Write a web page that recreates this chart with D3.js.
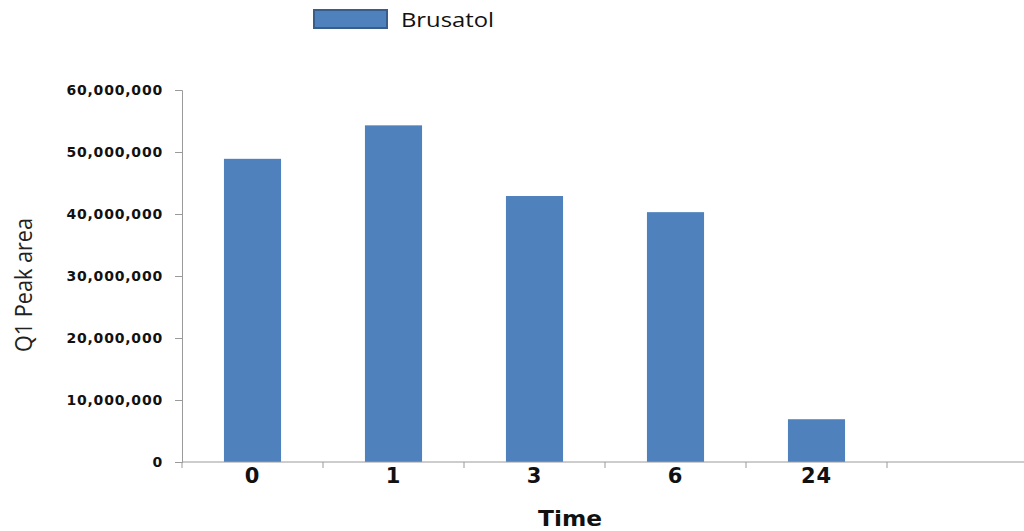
<!DOCTYPE html>
<html>
<head>
<meta charset="utf-8">
<script src="https://cdn.jsdelivr.net/npm/d3@7"></script>
<style>
  body { margin: 0; background: #fff; }
  .tick-y text { font-family: "DejaVu Sans", sans-serif; font-weight: bold; font-size: 14px; letter-spacing: 0.8px; fill: #111; }
  .tick-x text { font-family: "DejaVu Sans", sans-serif; font-weight: bold; font-size: 21px; letter-spacing: 1px; fill: #111; }
</style>
</head>
<body>
<div id="chart"></div>
<script>
// categories (time points), last one is an empty slot like in the original
const times = ["0", "1", "3", "6", "24", ""];
const peakArea = [48900000, 54300000, 42900000, 40300000, 6900000, null];
const yTicks = [0, 10000000, 20000000, 30000000, 40000000, 50000000, 60000000];
const seriesName = "Brusatol";

const width = 1024, height = 531;
const margin = {top: 90, left: 182, bottom: 69};

const svg = d3.select("#chart").append("svg")
  .attr("width", width)
  .attr("height", height);

const x = d3.scaleBand()
  .domain(times.map((d, i) => i))
  .range([margin.left, margin.left + 141 * times.length])
  .paddingInner(0.595)
  .paddingOuter(0.2975);

const y = d3.scaleLinear()
  .domain([0, 60000000])
  .range([height - margin.bottom, margin.top]);

// bars
svg.append("g").selectAll("rect")
  .data(peakArea.map((v, i) => ({v, i})).filter(d => d.v != null))
  .enter().append("rect")
  .attr("x", d => x(d.i))
  .attr("width", x.bandwidth())
  .attr("y", d => y(d.v))
  .attr("height", d => y(0) - y(d.v))
  .attr("fill", "#4f81bd");

// y axis
const yAxis = svg.append("g")
  .attr("class", "tick-y")
  .attr("transform", `translate(${margin.left},0)`)
  .call(d3.axisLeft(y).tickValues(yTicks).tickFormat(d3.format(",")).tickSize(7).tickPadding(12));
yAxis.select(".domain").attr("stroke", "#9a9a9a");
yAxis.selectAll(".tick line").attr("stroke", "#9a9a9a");

// x axis: ticks at band boundaries
const xAxisG = svg.append("g")
  .attr("transform", `translate(0,${y(0)})`);
xAxisG.append("line")
  .attr("x1", margin.left).attr("x2", width)
  .attr("stroke", "#9a9a9a");
xAxisG.selectAll(".bnd")
  .data(times.map((d, i) => i))
  .enter().append("line")
  .attr("x1", i => x(i) - x.step() * x.paddingOuter())
  .attr("x2", i => x(i) - x.step() * x.paddingOuter())
  .attr("y1", 0).attr("y2", 6)
  .attr("stroke", "#9a9a9a");
xAxisG.append("g").attr("class", "tick-x").selectAll("text")
  .data(times.map((d, i) => ({d, i})))
  .enter().append("text")
  .attr("x", t => x(t.i) + x.bandwidth() / 2)
  .attr("y", 21)
  .attr("text-anchor", "middle")
  .text(t => t.d);

// axis titles
svg.append("text")
  .attr("x", 538).attr("y", 526)
  .attr("font-family", "DejaVu Sans, sans-serif")
  .attr("font-weight", "bold")
  .attr("font-size", 21)
  .attr("textLength", 64)
  .attr("lengthAdjust", "spacingAndGlyphs")
  .attr("fill", "#111")
  .text("Time");

svg.append("text")
  .attr("transform", "translate(32,352) rotate(-90)")
  .attr("font-family", "Open Sans, sans-serif")
  .attr("font-size", 24)
  .attr("textLength", 134)
  .attr("lengthAdjust", "spacingAndGlyphs")
  .attr("fill", "#222")
  .text("Q1 Peak area");

// legend
const legend = svg.append("g");
legend.append("rect")
  .attr("x", 314).attr("y", 10)
  .attr("width", 73).attr("height", 18)
  .attr("fill", "#4f81bd")
  .attr("stroke", "#385d8a")
  .attr("stroke-width", 2);
legend.append("text")
  .attr("x", 401).attr("y", 27)
  .attr("font-family", "Open Sans, sans-serif")
  .attr("font-size", 20)
  .attr("textLength", 93)
  .attr("lengthAdjust", "spacingAndGlyphs")
  .attr("fill", "#111")
  .text(seriesName);
</script>
</body>
</html>
